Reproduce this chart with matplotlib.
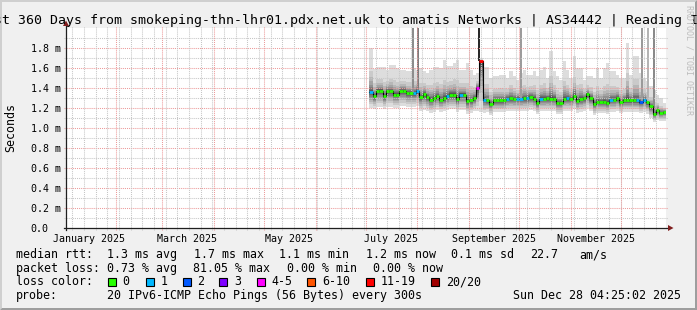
import matplotlib
matplotlib.use("Agg")
import matplotlib.pyplot as plt
import matplotlib.dates as mdates
from matplotlib.patches import Polygon, Rectangle
import numpy as np

# time window of the graph (360 days back from the timestamp)
start_time = np.datetime64('2025-01-02T04:25:02')
end_time = np.datetime64('2025-12-28T04:25:02')

# smokeping data, 2-day bins starting on first_bin (ms)
first_bin = np.datetime64('2025-07-03T04:25:02')
bin_days = 2

median_ms = [1.36, 1.32, 1.375, 1.375, 1.32, 1.37, 1.37, 1.335, 1.335, 1.37,
             1.37, 1.35, 1.35, 1.35, 1.37, 1.31, 1.34, 1.31, 1.285, 1.30,
             1.32, 1.283, 1.30, 1.317, 1.333, 1.333, 1.29, 1.333, 1.333, 1.267,
             1.277, 1.30, 1.40, 1.667, 1.285, 1.277, 1.24, 1.277, 1.277, 1.277,
             1.277, 1.293, 1.30, 1.293, 1.293, 1.293, 1.30, 1.30, 1.31, 1.293,
             1.25, 1.293, 1.293, 1.30, 1.293, 1.293, 1.25, 1.25, 1.293, 1.30,
             1.293, 1.317, 1.273, 1.293, 1.30, 1.34, 1.30, 1.24, 1.26, 1.26,
             1.26, 1.25, 1.283, 1.283, 1.30, 1.26, 1.28, 1.28, 1.28, 1.28,
             1.28, 1.26, 1.283, 1.26, 1.217, 1.14, 1.183, 1.15, 1.16]

smoke_max = [1.80, 1.59, 1.61, 1.61, 1.61, 1.58, 1.63, 1.63, 1.60, 1.58,
             1.58, 1.57, 1.57, 1.60, 1.58, 1.60, 1.57, 1.55, 1.58, 1.61,
             1.61, 1.60, 1.68, 1.62, 1.62, 1.65, 1.68, 1.58, 1.58, 1.65,
             1.58, 1.53, 1.55, 1.70, 1.61, 1.61, 1.50, 1.52, 1.52, 1.53,
             1.53, 1.50, 1.57, 1.52, 1.48, 1.55, 1.58, 1.53, 1.53, 1.57,
             1.52, 1.58, 1.61, 1.50, 1.77, 1.57, 1.52, 1.48, 1.67, 1.58,
             1.50, 1.72, 1.60, 1.60, 1.48, 1.52, 1.52, 1.50, 1.60, 1.50,
             1.60, 1.65, 1.57, 1.57, 1.53, 1.50, 1.50, 1.85, 1.53, 1.72,
             1.72, 1.55, 1.50, 1.47, 1.42, 1.38, 1.33, 1.30, 1.25]

smoke_min = [1.20, 1.19, 1.21, 1.21, 1.19, 1.21, 1.21, 1.20, 1.20, 1.22,
             1.22, 1.21, 1.21, 1.21, 1.22, 1.17, 1.18, 1.17, 1.15, 1.16,
             1.18, 1.16, 1.17, 1.18, 1.19, 1.19, 1.16, 1.18, 1.18, 1.14,
             1.15, 1.17, 1.17, 1.16, 1.15, 1.16, 1.13, 1.16, 1.16, 1.16,
             1.16, 1.17, 1.17, 1.17, 1.17, 1.17, 1.17, 1.17, 1.18, 1.17,
             1.14, 1.17, 1.17, 1.17, 1.17, 1.17, 1.14, 1.14, 1.17, 1.17,
             1.17, 1.19, 1.15, 1.16, 1.17, 1.20, 1.17, 1.13, 1.15, 1.15,
             1.15, 1.14, 1.16, 1.16, 1.17, 1.15, 1.16, 1.16, 1.16, 1.16,
             1.16, 1.15, 1.16, 1.14, 1.10, 1.06, 1.08, 1.07, 1.07]

# lost pings (of 20) per bin
lost_pings = [0] * len(median_ms)
for i in [0, 13, 14, 23, 27, 34, 41, 44, 45, 47, 51, 59, 72, 80, 82]:
    lost_pings[i] = 1
lost_pings[81] = 2
lost_pings[32] = 4
lost_pings[33] = 15

# tall outliers that run off the top of the graph
spike_times = np.array(['2025-07-29T12:00', '2025-08-01T06:00', '2025-09-07T06:00',
                        '2025-10-02T00:00', '2025-12-13T18:00', '2025-12-17T09:00',
                        '2025-12-20T21:00'], dtype='datetime64[m]')
spike_shades = ['#8c8c8c', '#7c7c7c', '#2a2a2a', '#9c9c9c', '#9a9a9a', '#b4b4b4', '#8a8a8a']

loss_labels = ['0', '1', '2', '3', '4-5', '6-10', '11-19', '20/20']
loss_limits = [0, 1, 2, 3, 5, 10, 19, 20]
loss_colors = ['#26ff00', '#00b8ff', '#0059ff', '#7e00ff', '#ff00ff', '#ff5500', '#ff0000', '#a10000']

month_labels = ['January 2025', 'March 2025', 'May 2025', 'July 2025', 'September 2025', 'November 2025']
month_label_pos = np.array(['2025-01-16', '2025-03-16', '2025-05-16', '2025-07-16',
                            '2025-09-16', '2025-11-16'], dtype='datetime64[D]')
y_ticks = [0.0, 0.2, 0.4, 0.6, 0.8, 1.0, 1.2, 1.4, 1.6, 1.8]

W, H = 697, 310
MONO = 'DejaVu Sans Mono'


def fxy(x, y):
    # pixel position (from top-left) -> figure fraction
    return (x / W, 1 - y / H)


fig = plt.figure(figsize=(W / 100, H / 100), dpi=100)
fig.patch.set_facecolor('#f0f0f0')

# 3d frame round the image
fig.add_artist(Polygon([fxy(0, H), fxy(2, H - 2), fxy(2, 2), fxy(W - 2, 2), fxy(W, 0), fxy(0, 0)],
                       closed=True, transform=fig.transFigure, fc='#cfcfcf', lw=0))
fig.add_artist(Polygon([fxy(2, H - 2), fxy(W - 2, H - 2), fxy(W - 2, 2), fxy(W, 0), fxy(W, H), fxy(0, H)],
                       closed=True, transform=fig.transFigure, fc='#9e9e9e', lw=0))

ax = fig.add_axes([66 / W, 1 - 228 / H, 600 / W, 200 / H])
ax.set_facecolor('white')
ax.set_xlim(mdates.date2num(start_time), mdates.date2num(end_time))
ax.set_ylim(0, 2.0)
for s in ax.spines.values():
    s.set_visible(False)
ax.set_xticks([])
ax.set_yticks([])

med = np.array(median_ms)
top = np.array(smoke_max)
bot = np.array(smoke_min)
n = len(med)
edges = first_bin + np.arange(n + 1) * np.timedelta64(bin_days, 'D')
ex = mdates.date2num(edges)

# smoke: 20 sorted pings, grey layers between neighbours (darker near the median)
lower_frac = [1.0, 0.78, 0.62, 0.49, 0.38, 0.29, 0.21, 0.14, 0.08, 0.03]
upper_frac = [0.01, 0.03, 0.05, 0.08, 0.12, 0.17, 0.24, 0.33, 0.48, 1.0]
pings = [med - (med - bot) * g for g in lower_frac] + [med + (top - med) * f for f in upper_frac]
for i in range(19):
    g = int(190 / 10 * abs(10 - (i + 1))) + 50
    c = '#%02x%02x%02x' % (g, g, g)
    ax.fill_between(ex, np.append(pings[i], pings[i][-1]), np.append(pings[i + 1], pings[i + 1][-1]),
                    step='post', color=c, lw=0, antialiased=False, zorder=2)

# outlier spikes
spike_idx = ((spike_times - first_bin) / np.timedelta64(bin_days, 'D')).astype(int)
spike_base = med[spike_idx]
ax.bar(mdates.date2num(spike_times), 2.2 - spike_base, bottom=spike_base, width=1.2,
       color=spike_shades, lw=0, antialiased=False, zorder=3)

# grid (rrdtool style dotted, sticking out 2px past the canvas)
ext_x = 2 / 600
ext_y = 2 / 200
minor_y = [v / 10 for v in range(1, 20, 2)]
major_y = y_ticks[1:]
ax.hlines(minor_y, -ext_x, 1 + ext_x, transform=ax.get_yaxis_transform(), colors='#c6c6c6',
          lw=0.75, linestyles=(0, (1, 1)), clip_on=False, zorder=4)
ax.hlines(major_y, -ext_x, 1 + ext_x, transform=ax.get_yaxis_transform(), colors='#ec9a9a',
          lw=0.75, linestyles=(0, (1, 1)), clip_on=False, zorder=4)
months = np.arange(np.datetime64('2025-02'), np.datetime64('2026-01'), dtype='datetime64[M]')
weeks = np.arange(np.datetime64('2025-01-06'), np.datetime64('2025-12-28'), np.timedelta64(7, 'D'))
ax.vlines(mdates.date2num(weeks), -ext_y, 1 + ext_y, transform=ax.get_xaxis_transform(),
          colors='#c6c6c6', lw=0.75, linestyles=(0, (1, 1)), clip_on=False, zorder=4)
ax.vlines(mdates.date2num(months.astype('datetime64[D]')), -ext_y, 1 + ext_y,
          transform=ax.get_xaxis_transform(), colors='#ec9a9a', lw=0.75,
          linestyles=(0, (1, 1)), clip_on=False, zorder=4)

# median line coloured by loss
def loss_color(k):
    for lim, col in zip(loss_limits, loss_colors):
        if k <= lim:
            return col
    return loss_colors[-1]

ax.step(ex, np.append(med, med[-1]), where='post', color='#000000', lw=0.8, zorder=6)
ax.hlines(med, ex[:-1], ex[1:], colors=[loss_color(k) for k in lost_pings], lw=2.0, zorder=7)

# axes with arrows
ax.plot([-ext_x, 1 + ext_x], [0, 0], transform=ax.transAxes, color='#1f1f1f', lw=0.9,
        clip_on=False, zorder=8)
ax.plot([0, 0], [-ext_y, 1 + ext_y], transform=ax.transAxes, color='#1f1f1f', lw=0.9,
        clip_on=False, zorder=8)
fig.add_artist(Polygon([fxy(668, 225), fxy(673.5, 228), fxy(668, 231)], closed=True,
                       transform=fig.transFigure, fc='#801f1f', lw=0))
fig.add_artist(Polygon([fxy(63, 26), fxy(66, 20.5), fxy(69, 26)], closed=True,
                       transform=fig.transFigure, fc='#801f1f', lw=0))

# tick labels
for v in y_ticks:
    lab = '%.1f' % v if v == 0 else '%.1f m' % v
    ax.text(-35.3 / 600, v, lab, transform=ax.get_yaxis_transform(), ha='left',
            va='center_baseline', family=MONO, fontsize=7.2)
for d, lab in zip(month_label_pos, month_labels):
    ax.text(mdates.date2num(d), -13.5 / 200, lab, transform=ax.get_xaxis_transform(),
            ha='center', va='baseline', family=MONO, fontsize=7.2)

# title, unit label, watermark
fig.text(*fxy(-22, 24), 'Last 360 Days from smokeping-thn-lhr01.pdx.net.uk to amatis Networks | AS34442 | Reading I',
         ha='left', va='baseline', family=MONO, fontsize=9.5)
fig.text(*fxy(10.5, 128), 'Seconds', rotation=90, ha='center', va='center', family=MONO, fontsize=8.35)
fig.text(*fxy(688.5, 5), 'RRDTOOL / TOBI OETIKER', rotation=270, ha='center', va='top',
         family=MONO, fontsize=6, color='#bdbdbd')

# legend block
rows = [
    (258.3, [(16, 'median rtt:'), (107, '1.3 ms avg'), (194, '1.7 ms max'), (279.3, '1.1 ms min'),
             (365.7, '1.2 ms now'), (451, '0.1 ms sd'), (530.3, '22.7'), (579, 'am/s')]),
    (271.8, [(16, 'packet loss:'), (107, '0.73 % avg'), (193.3, '81.05 % max'),
             (287.3, '0.00 % min'), (372.7, '0.00 % now')]),
    (285.4, [(16, 'loss color:')]),
    (299.0, [(16, 'probe:'), (107, '20 IPv6-ICMP Echo Pings (56 Bytes) every 300s'),
             (513.3, 'Sun Dec 28 04:25:02 2025')]),
]
for y, items in rows:
    for x, s in items:
        fig.text(*fxy(x, y), s, ha='left', va='baseline', family=MONO, fontsize=8.35)

box_x = [108, 145.7, 182.7, 219.3, 256.7, 307.3, 365.7, 431]
for bx, lab, col in zip(box_x, loss_labels, loss_colors):
    fig.add_artist(Rectangle(fxy(bx, 286), 8 / W, 8 / H, transform=fig.transFigure,
                             fc=col, ec='black', lw=0.8))
    fig.text(*fxy(bx + 14.7, 285.4), lab, ha='left', va='baseline', family=MONO, fontsize=8.35)

fig.savefig('out.png', dpi=100, facecolor=fig.get_facecolor())
